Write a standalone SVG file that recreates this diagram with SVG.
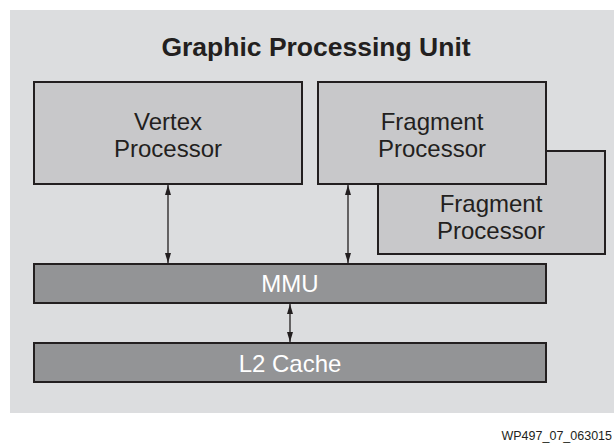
<svg xmlns="http://www.w3.org/2000/svg" width="614" height="444" viewBox="0 0 614 444">
<style>
.box{fill:#c8c8ca;stroke:#231f20;stroke-width:2}
.bar{fill:#939496;stroke:#231f20;stroke-width:2}
.t{font-family:"Liberation Sans",Arial,sans-serif;font-size:24px;fill:#231f20;text-anchor:middle}
.w{fill:#ffffff}
.conn{stroke:#231f20;stroke-width:1.3;fill:none;marker-start:url(#ah);marker-end:url(#ah)}
</style>
<defs>
<marker id="ah" viewBox="0 0 10 6" refX="10" refY="3" markerWidth="10" markerHeight="6" markerUnits="userSpaceOnUse" orient="auto-start-reverse">
<path d="M0,0 L10,3 L0,6 Z" fill="#231f20"/>
</marker>
</defs>
<rect x="10" y="10" width="604" height="403" fill="#dcdddf"/>
<text x="316" y="56" class="t" style="font-size:26.5px;font-weight:bold">Graphic Processing Unit</text>
<g id="vertex">
<rect class="box" x="34" y="82" width="268" height="102"/>
<text class="t" x="168" y="130">Vertex</text>
<text class="t" x="168" y="157">Processor</text>
</g>
<g id="fragment2">
<rect class="box" x="378" y="151" width="227" height="103"/>
<text class="t" x="491" y="212">Fragment</text>
<text class="t" x="491" y="239">Processor</text>
</g>
<g id="fragment1">
<rect class="box" x="318" y="82" width="228" height="102"/>
<text class="t" x="432" y="130">Fragment</text>
<text class="t" x="432" y="157">Processor</text>
</g>
<g id="mmu">
<rect class="bar" x="34" y="264" width="512" height="39"/>
<text class="t w" x="290" y="292">MMU</text>
</g>
<g id="l2">
<rect class="bar" x="34" y="343" width="512" height="39"/>
<text class="t w" x="290" y="372">L2 Cache</text>
</g>
<g id="connectors">
<line class="conn" x1="168" y1="185" x2="168" y2="263"/>
<line class="conn" x1="348" y1="185" x2="348" y2="263"/>
<line class="conn" x1="290" y1="304" x2="290" y2="342"/>
</g>
<text x="612" y="440" text-anchor="end" style="font-family:'Liberation Sans',Arial,sans-serif;font-size:12.5px;fill:#231f20">WP497_07_063015</text>
</svg>
